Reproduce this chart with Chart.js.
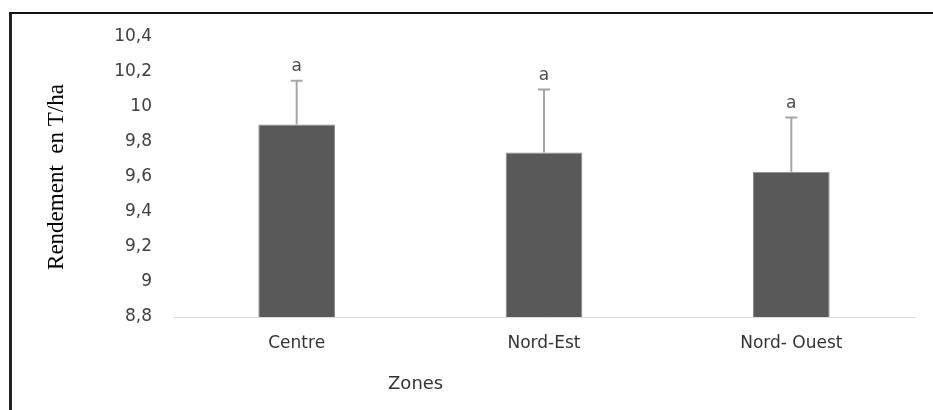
<!DOCTYPE html>
<html>
<head>
<meta charset="utf-8">
<script src="https://cdn.jsdelivr.net/npm/chart.js@4/dist/chart.umd.min.js"></script>
<style>
    html, body { margin: 0; padding: 0; background: #fff; }
    #wrap { position: relative; width: 933px; height: 410px; }
    #frame {
        position: absolute; left: 9px; top: 12px; right: 0; bottom: 0;
        border-top: 2px solid #111; border-left: 3px solid #222;
        pointer-events: none;
    }
</style>
</head>
<body>
<div id="wrap">
    <canvas id="rendementChart" width="933" height="410"></canvas>
    <div id="frame"></div>
</div>
<script>
const zones = ["Centre", "Nord-Est", "Nord- Ouest"];
const rendement = [9.9, 9.74, 9.63];
const ecartType = [0.25, 0.36, 0.31];
const lettres = ["a", "a", "a"];
const yMin = 8.8;
const yMax = 10.4;
const yStep = 0.2;

const formatTick = (v) => String(Number(v.toFixed(1))).replace(".", ",");

// error bars + letters drawn on top of the bars
const errorBars = {
    id: "errorBars",
    afterDatasetsDraw(chart) {
        const ctx = chart.ctx;
        const yScale = chart.scales.y;
        const meta = chart.getDatasetMeta(0);
        ctx.save();
        meta.data.forEach((bar, i) => {
            const yTop = yScale.getPixelForValue(rendement[i] + ecartType[i]);
            ctx.strokeStyle = "#a6a6a6";
            ctx.lineWidth = 2;
            ctx.beginPath();
            ctx.moveTo(bar.x, bar.y);
            ctx.lineTo(bar.x, yTop);
            ctx.moveTo(bar.x - 6, yTop);
            ctx.lineTo(bar.x + 6, yTop);
            ctx.stroke();

            ctx.fillStyle = "#4d4d4d";
            ctx.font = "17px 'DejaVu Sans'";
            ctx.textAlign = "center";
            ctx.textBaseline = "alphabetic";
            ctx.fillText(lettres[i], bar.x, yTop - 10);
        });
        ctx.restore();
    },
};

// x axis title sits left of centre in the original
const zonesTitle = {
    id: "zonesTitle",
    afterDraw(chart) {
        const ctx = chart.ctx;
        const area = chart.chartArea;
        ctx.save();
        ctx.fillStyle = "#333";
        ctx.font = "18px 'DejaVu Sans'";
        ctx.textAlign = "center";
        ctx.textBaseline = "middle";
        ctx.fillText("Zones", area.left + area.width * 0.327, 384);
        ctx.restore();
    },
};

new Chart(document.getElementById("rendementChart"), {
    type: "bar",
    data: {
        labels: zones,
        datasets: [
            {
                label: "Rendement",
                data: rendement,
                backgroundColor: "#595959",
                borderColor: "#8a8a8a",
                borderWidth: 1,
                barPercentage: 0.31,
                categoryPercentage: 1,
            },
        ],
    },
    options: {
        responsive: false,
        devicePixelRatio: 1,
        animation: false,
        layout: {
            padding: { left: 12, right: 18, top: 37, bottom: 0 },
        },
        plugins: {
            legend: { display: false },
            tooltip: { enabled: false },
        },
        scales: {
            x: {
                grid: { display: false, drawTicks: false },
                border: { display: true, color: "#d9d9d9", width: 1 },
                ticks: {
                    color: "#333",
                    padding: 16,
                    font: { family: "DejaVu Sans", size: 17 },
                },
                afterFit: (scale) => { scale.height = 93; },
            },
            y: {
                min: yMin,
                max: yMax,
                grid: { display: false, drawTicks: false },
                border: { display: false },
                ticks: {
                    stepSize: yStep,
                    color: "#404040",
                    padding: 21,
                    font: { family: "DejaVu Sans", size: 17 },
                    callback: (v) => formatTick(v),
                },
                title: {
                    display: true,
                    text: "Rendement  en T/ha",
                    color: "#000",
                    font: { family: "Liberation Serif", size: 23 },
                    padding: { top: 31, bottom: 0 },
                },
                afterFit: (scale) => { scale.width = 161; },
            },
        },
    },
    plugins: [errorBars, zonesTitle],
});
</script>
</body>
</html>
